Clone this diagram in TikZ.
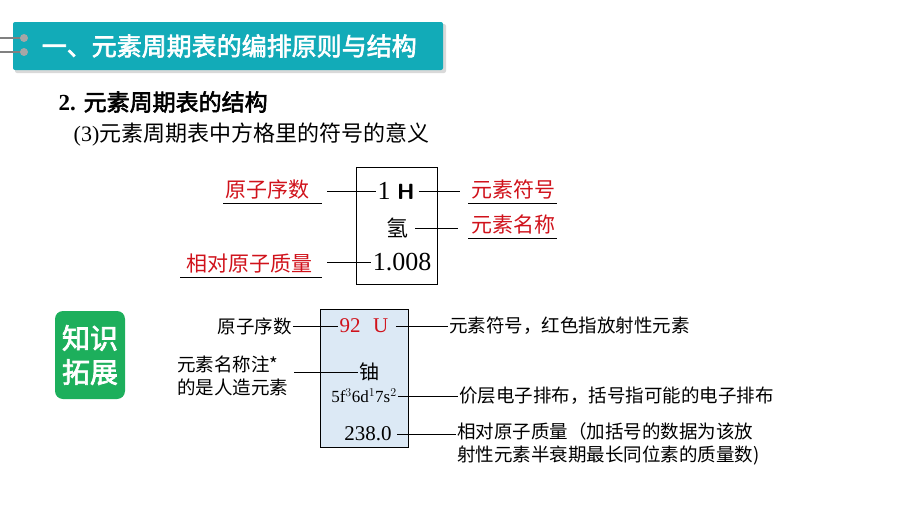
\documentclass[tikz,border=0pt]{standalone}
\usepackage{fontspec}
\setmainfont{Liberation Serif}
\newfontfamily\cjk[AutoFakeBold=2.5]{Noto Sans CJK SC}
\definecolor{banner}{HTML}{12ABB8}
\definecolor{badge}{HTML}{1DAF5C}
\definecolor{labelred}{HTML}{D0121B}
\definecolor{cellblue}{HTML}{DCE9F5}
\begin{document}
\begin{tikzpicture}[x=1pt,y=-1pt,thick,lbl/.style={font=\cjk\fontsize{19}{21}\selectfont,inner sep=1pt},red lbl/.style={lbl,text=labelred,font=\cjk\fontsize{21}{23}\selectfont},cell/.style={font=\fontsize{26}{28}\selectfont,inner sep=1pt}]%
\useasboundingbox (0,0) rectangle (900,506);
% title
\fill[black!15,rounded corners=2pt] (15,24) rectangle (446,73);
\fill[banner,rounded corners=2pt] (13,22) rectangle (443,70);
\foreach \yy in {38,52}{\draw[gray,line width=2.5pt] (0,\yy) -- (22,\yy); \fill[gray!70] (24,\yy) circle (4);}
\node[anchor=west,text=white,font=\cjk\bfseries\fontsize{25}{27}\selectfont] (title) at (38,46) {一、元素周期表的编排原则与结构};
\node[anchor=west,font=\bfseries\fontsize{23}{25}\selectfont] (sec) at (55,102) {2. {\cjk\bfseries 元素周期表的结构}};
\node[anchor=west,font=\fontsize{22}{24}\selectfont] (sub) at (70,135) {(3){\cjk 元素周期表中方格里的符号的意义}};
% hydrogen cell
\draw (356,167) rectangle (437,284);
\begin{scope}[every node/.style={cell}]
\node (hnum) at (396,191) {1 {\sffamily\bfseries\fontsize{22}{24}\selectfont H}};
\node[font=\cjk\fontsize{22}{24}\selectfont] (hname) at (397,228) {氢};
\node (hmass) at (402,262) {1.008};
\end{scope}
\node[red lbl,anchor=south west] (l1) at (224,201) {原子序数};
\node[red lbl,anchor=south west] (l2) at (185,275) {相对原子质量};
\node[red lbl,anchor=south west] (l3) at (470,201) {元素符号};
\node[red lbl,anchor=south west] (l4) at (470,236) {元素名称};
\draw[thin] (223,203) -- (322,203) (180,277) -- (322,277) (468,203) -- (557,203) (468,238) -- (557,238);
\coordinate (a1) at (327,191); \coordinate (a2) at (327,262);
\coordinate (a3) at (460,191); \coordinate (a4) at (458,228);
\draw (a1) -- (hnum.west);
\draw (a2) -- (hmass.west);
\draw (hnum.east) ++(3,0) -- (a3);
\draw (hname.east) ++(6,0) -- (a4);
% badge
\node[fill=badge,rounded corners=8pt,minimum width=70pt,minimum height=88pt,text=white,align=center,font=\cjk\bfseries\fontsize{28}{34}\selectfont] (badge) at (90,355) {知识\\拓展};
% uranium cell
\draw[fill=cellblue] (320,309) rectangle (408,447);
\begin{scope}[every node/.style={cell,font=\fontsize{21}{23}\selectfont}]
\node[text=labelred] (unum) at (364,326) {92\hspace{0.6em}U};
\node[font=\cjk\fontsize{20}{22}\selectfont] (uname) at (369,372) {铀};
\node[font=\fontsize{17}{19}\selectfont] (uconf) at (364,396) {5f$^3$6d$^1$7s$^2$};
\node (umass) at (368,434) {238.0};
\end{scope}
\begin{scope}[every node/.style={lbl,font=\cjk\fontsize{18.5}{23}\selectfont}]
\node[anchor=east] (k1) at (293,326) {原子序数};
\node[anchor=west,align=left] (k2) at (176,376) {元素名称注*\\的是人造元素};
\node[anchor=west] (k3) at (448,326) {元素符号，红色指放射性元素};
\node[anchor=west] (k4) at (458,396) {价层电子排布，括号指可能的电子排布};
\node[anchor=west,align=left] (k5) at (456,444) {相对原子质量（加括号的数据为该放\\射性元素半衰期最长同位素的质量数)};
\end{scope}
\coordinate (b2) at (294,372); \coordinate (b5) at (456,434);
\draw (k1.east) -- (unum.west);
\draw (b2) -- (uname.west);
\draw (unum.east) ++(6,0) -- (k3.west);
\draw (uconf.east) -- (k4.west);
\draw (umass.east) ++(4,0) -- (b5);
\end{tikzpicture}
\end{document}
